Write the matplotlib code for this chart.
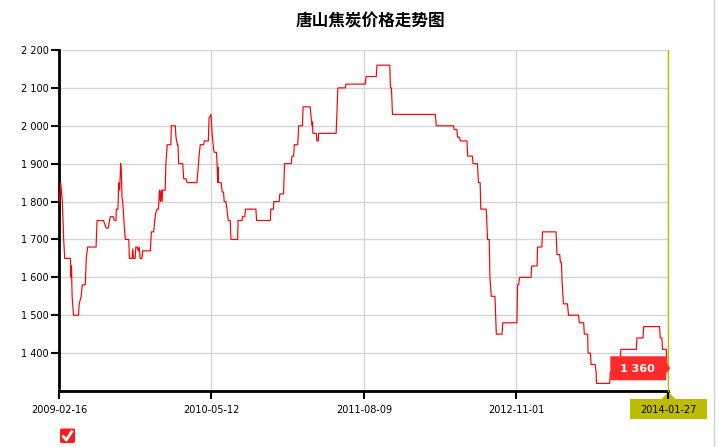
import matplotlib
matplotlib.use("Agg")
import matplotlib.pyplot as plt
import matplotlib.dates as mdates
import matplotlib.transforms as mtrans
from matplotlib.patches import Polygon, Rectangle, FancyBboxPatch
from matplotlib.lines import Line2D
import pandas as pd

plt.rcParams['font.family'] = ['DejaVu Sans', 'Noto Sans CJK SC']

title = "唐山焦炭价格走势图"
start_date = "2009-02-16"
# days after start_date of each observation, and price (yuan/t)
days = [0, 4, 9, 13, 16, 33, 35, 36, 38, 42, 57, 59, 65, 68, 77, 80, 84, 109, 112, 131,
        135, 139, 145, 151, 160, 163, 168, 169, 174, 176, 179, 182, 184, 186, 188, 193, 196,
        206, 208, 216, 218, 220, 225, 227, 231, 234, 237, 240, 245, 247, 270, 273, 280, 283,
        286, 290, 294, 297, 300, 302, 305, 306, 314, 316, 320, 331, 332, 344, 346, 350, 352,
        354, 366, 369, 376, 379, 408, 411, 415, 418, 428, 430, 442, 444, 450, 453, 458, 460,
        466, 468, 470, 471, 472, 480, 483, 487, 489, 494, 497, 501, 507, 509, 529, 530, 542,
        543, 550, 552, 583, 585, 626, 627, 635, 636, 652, 654, 665, 668, 688, 690, 695, 697,
        707, 710, 721, 723, 744, 747, 750, 751, 752, 754, 762, 764, 768, 769, 821, 826, 848,
        850, 907, 910, 940, 942, 980, 982, 985, 988, 1115, 1118, 1169, 1171, 1179, 1181, 1187,
        1189, 1209, 1211, 1225, 1227, 1240, 1243, 1248, 1250, 1266, 1270, 1275, 1277, 1281,
        1292, 1296, 1313, 1315, 1357, 1359, 1362, 1365, 1399, 1401, 1417, 1418, 1431, 1433,
        1473, 1476, 1484, 1486, 1489, 1491, 1495, 1507, 1510, 1540, 1542, 1555, 1557, 1567,
        1568, 1575, 1577, 1589, 1592, 1593, 1632, 1634, 1649, 1650, 1664, 1665, 1711, 1713,
        1731, 1733, 1780, 1782, 1787, 1789, 1800, 1803, 1806]
price = [1800, 1850, 1800, 1700, 1650, 1650, 1600, 1630, 1550, 1500, 1500, 1530, 1550, 1580,
         1580, 1650, 1680, 1680, 1750, 1750, 1740, 1730, 1730, 1760, 1760, 1750, 1750, 1780,
         1780, 1850, 1830, 1900, 1880, 1810, 1800, 1730, 1700, 1700, 1650, 1650, 1675, 1650,
         1650, 1680, 1680, 1670, 1680, 1650, 1650, 1670, 1670, 1720, 1720, 1750, 1770, 1780,
         1780, 1830, 1800, 1830, 1800, 1830, 1830, 1900, 1950, 1950, 2000, 2000, 1970, 1950,
         1950, 1900, 1900, 1860, 1860, 1850, 1850, 1880, 1925, 1950, 1950, 1960, 1960, 2020,
         2030, 1980, 1935, 1930, 1930, 1900, 1850, 1890, 1850, 1850, 1825, 1825, 1800, 1800,
         1780, 1750, 1750, 1700, 1700, 1750, 1750, 1760, 1760, 1780, 1780, 1750, 1750, 1780,
         1780, 1800, 1800, 1820, 1820, 1900, 1900, 1920, 1920, 1950, 1950, 2000, 2000, 2050,
         2050, 2020, 2000, 2010, 1980, 1980, 1980, 1960, 1960, 1980, 1980, 2100, 2100, 2110,
         2110, 2130, 2130, 2160, 2160, 2100, 2100, 2030, 2030, 2000, 2000, 1990, 1990, 1970,
         1970, 1960, 1960, 1920, 1920, 1900, 1900, 1850, 1850, 1780, 1780, 1700, 1700, 1600,
         1550, 1550, 1450, 1450, 1480, 1480, 1580, 1580, 1600, 1600, 1630, 1630, 1680, 1680,
         1720, 1720, 1660, 1660, 1640, 1640, 1590, 1530, 1530, 1500, 1500, 1480, 1480, 1450,
         1450, 1400, 1400, 1370, 1370, 1350, 1320, 1320, 1350, 1350, 1380, 1380, 1410, 1410,
         1440, 1440, 1470, 1470, 1440, 1440, 1410, 1410, 1360, 1360]
x_ticks = ["2009-02-16", "2010-05-12", "2011-08-09", "2012-11-01", "2014-01-27"]
y_ticks = [1400, 1500, 1600, 1700, 1800, 1900, 2000, 2100, 2200]
y_min, y_max = 1300, 2200

W, H = 719, 447
fig = plt.figure(figsize=(W / 100, H / 100), dpi=100)
ax = fig.add_axes([59.3 / W, 1 - 391 / H, (668.3 - 59.3) / W, (391 - 50) / H])

dates = pd.Timestamp(start_date) + pd.to_timedelta(days, unit="D")
tick_dates = pd.to_datetime(x_ticks)

ax.plot(dates, price, color="#FF0000", lw=0.85, zorder=3)

ax.set_xlim(tick_dates[0], tick_dates[-1])
ax.set_ylim(y_min, y_max)
ax.set_xticks(tick_dates)
ax.set_xticklabels(x_ticks)
ax.set_yticks(y_ticks)
ax.set_yticklabels([f"{v:,}".replace(",", " ") for v in y_ticks])

ax.grid(True, color="#D6D6D6", lw=1.0, zorder=0)
ax.set_axisbelow(True)
for s in ("top", "right"):
    ax.spines[s].set_visible(False)
for s in ("left", "bottom"):
    ax.spines[s].set_linewidth(2.0)
    ax.spines[s].set_color("black")
ax.tick_params(axis="y", direction="out", length=6, width=1.5, pad=1.8, labelsize=7, colors="black")
ax.tick_params(axis="x", direction="out", length=6, width=1.5, pad=4.0, labelsize=7, colors="black")

# crosshair at the last point
ax.axvline(tick_dates[-1], color="#BDBD00", lw=1.0, clip_on=False, zorder=4)

# value tag pointing at the last point
last_date, last_val = dates[-1], price[-1]
trans = fig.dpi_scale_trans + mtrans.ScaledTranslation(mdates.date2num(last_date), last_val, ax.transData)
px = lambda a: a / 100.0
tag = Polygon([(px(-58), px(12)), (px(-2), px(12)), (px(-2), px(5)), (px(2), px(0)),
               (px(-2), px(-5)), (px(-2), px(-12)), (px(-58), px(-12))],
              closed=True, facecolor="#FF2B2B", edgecolor="none", transform=trans,
              clip_on=False, zorder=6)
ax.add_patch(tag)
ax.text(px(-31), px(-0.5), f"{last_val:,}".replace(",", " "), transform=trans, color="white",
        fontsize=8, fontweight="bold", ha="center", va="center", zorder=7, clip_on=False)

# tooltip box behind the last x tick label
fig.add_artist(Rectangle((630 / W, 1 - 418.5 / H), 77 / W, 19.5 / H, transform=fig.transFigure,
                         facecolor="#BDBD00", edgecolor="none", zorder=-1))
fig.add_artist(Polygon([(661 / W, 1 - 399.5 / H), (668.5 / W, 1 - 392 / H), (676 / W, 1 - 399.5 / H)],
                       closed=True, transform=fig.transFigure, facecolor="#BDBD00",
                       edgecolor="none", zorder=-1))

# title
fig.text(370.5 / W, 1 - 21 / H, title, ha="center", va="center", fontsize=12, fontweight="bold",
         family=["Noto Sans CJK SC", "DejaVu Sans"])

# right border line of the frame
fig.add_artist(Line2D([713.5 / W, 713.5 / W], [0, 1], transform=fig.transFigure, color="#D4D4D4", lw=1))

# legend checkbox
fig.add_artist(FancyBboxPatch((60 / W, 1 - 443 / H), 15 / W, 14.5 / H, boxstyle="round,pad=0,rounding_size=0.003",
                              transform=fig.transFigure, facecolor="#FF1A1A", edgecolor="none"))
fig.add_artist(Line2D([62.5 / W, 66.3 / W, 72.5 / W], [1 - 435.5 / H, 1 - 440 / H, 1 - 430.5 / H],
                      transform=fig.transFigure, color="white", lw=2.0, solid_capstyle="butt"))

fig.savefig("out.png", dpi=100, facecolor="white")
